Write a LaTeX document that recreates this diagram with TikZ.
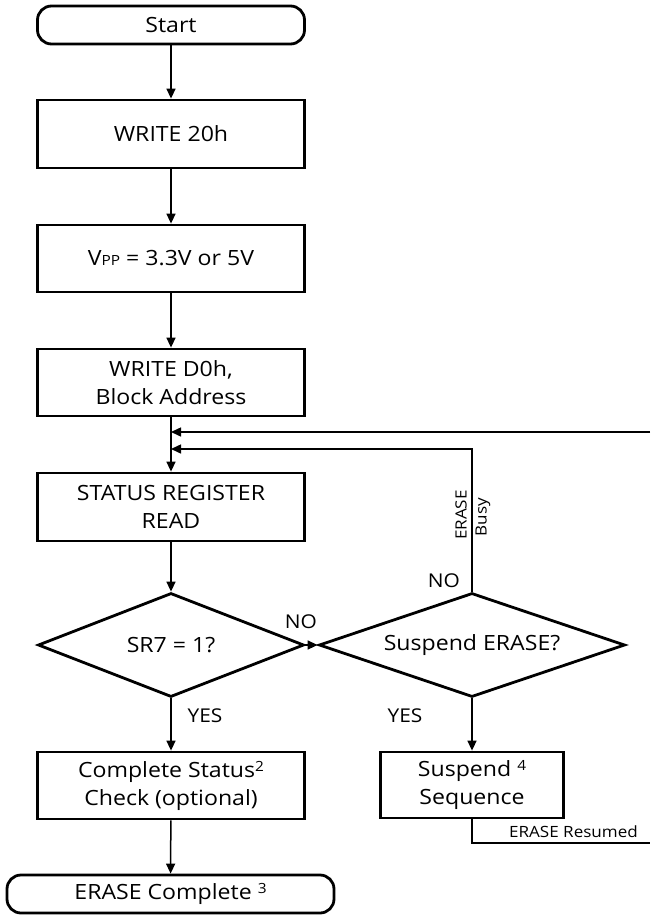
\documentclass[tikz,border=0pt]{standalone}
\usepackage{fontspec}
\setmainfont[FakeStretch=1.1]{Open Sans}
\usetikzlibrary{shapes.geometric,arrows.meta}
\newcommand\supnum[1]{\raisebox{6pt}{\fontsize{14}{14}\selectfont #1}}
\begin{document}
\begin{tikzpicture}[x=1pt,y=-1pt,
  box/.style={draw,line width=2.8pt,minimum width=267pt,inner sep=0pt,align=center,font=\fontsize{21}{28}\selectfont},
  term/.style={box,rounded corners=14pt,minimum height=38pt},
  dec/.style={draw,shape=diamond,aspect=2.9,line width=2.8pt,inner sep=0pt,font=\fontsize{21}{28}\selectfont},
  conn/.style={line width=1.5pt},
  arr/.style={conn,-{Triangle[length=10pt,width=9pt]}},
  lbl/.style={font=\fontsize{19}{22}\selectfont,inner sep=0pt},
  small/.style={font=\fontsize{15.5}{18}\selectfont,inner sep=0pt}]
\useasboundingbox (0,0) rectangle (650,917);
\node[term] (start) at (171,25) {Start};
\node[box,minimum height=68pt] (w20) at (171,134) {WRITE 20h};
\node[box,minimum height=67pt] (vpp) at (171,258.5) {V{\fontsize{14}{14}\selectfont PP} = 3.3V or 5V};
\node[box,minimum height=67pt] (wd0) at (171,382.5) {WRITE D0h,\\Block Address};
\node[box,minimum height=68pt] (srr) at (171,507) {STATUS REGISTER\\READ};
\node[dec,minimum width=266pt,minimum height=104pt] (sr7) at (171,645) {SR7 = 1?};
\node[dec,minimum width=306pt,minimum height=104pt] (susp) at (472,645) {Suspend ERASE?};
\node[box,minimum height=67pt] (css) at (171,785.5) {Complete Status\supnum{2}\\Check (optional)};
\node[box,minimum width=183pt,minimum height=66pt] (ss) at (472,785) {Suspend \supnum{4}\\Sequence};
\node[term,minimum width=327pt] (ec) at (170.5,894) {ERASE Complete \supnum{3}};
\draw[arr] (start) -- (w20);
\draw[arr] (w20) -- (vpp);
\draw[arr] (vpp) -- (wd0);
\draw[arr] (wd0) -- (srr);
\draw[arr] (srr) -- (sr7);
\draw[arr] (sr7) -- (css);
\draw[arr] (css) -- (ec);
\draw[arr] (sr7.east) -- (susp.west);
\draw[arr] (susp) -- (ss);
\coordinate (j1) at (171,432);
\coordinate (j2) at (171,449);
\coordinate (r1) at (650,432);
\coordinate (r2) at (650,843);
\draw[arr] (r1) -- (j1);
\draw[arr] (susp.north) |- (j2);
\draw[conn] (ss.south) |- (r2);
\node[lbl] (no1) at (301,622) {NO};
\node[lbl] (no2) at (444,581) {NO};
\node[lbl] (yes1) at (205,716) {YES};
\node[lbl] (yes2) at (405,716) {YES};
\node[small,rotate=90] (lerase) at (461,515) {ERASE};
\node[small,rotate=90] (lbusy) at (483,517) {Busy};
\node[small,anchor=south east] (lres) at (638,838) {ERASE Resumed};
\end{tikzpicture}
\end{document}
